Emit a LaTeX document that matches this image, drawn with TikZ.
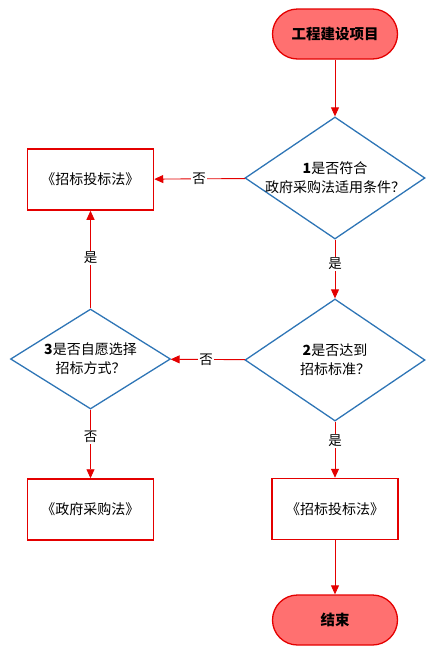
\documentclass[tikz,border=0pt]{standalone}
\usepackage{fontspec}
\setmainfont{Noto Sans CJK SC}
\usetikzlibrary{arrows.meta,shapes.geometric}
\definecolor{termred}{RGB}{255,112,112}
\definecolor{linered}{RGB}{228,0,0}
\definecolor{diablue}{RGB}{46,117,182}

\begin{document}
\begin{tikzpicture}[x=1pt,y=-1pt,
every node/.style={font=\fontsize{14}{19}\selectfont},
term/.style={draw=linered,line width=1.3pt,fill=termred,rounded corners=25pt,
  minimum width=125pt,minimum height=50pt,font=\fontsize{14.5}{19}\selectfont\bfseries},
lawbox/.style={draw=linered,line width=1.5pt,fill=white,minimum width=126pt,minimum height=61pt},
decision/.style={diamond,draw=diablue,line width=1.3pt,inner sep=0pt},
lbl/.style={fill=white,inner sep=1pt,font=\fontsize{13.5}{15}\selectfont},
flow/.style={draw=linered,line width=0.9pt,-{Triangle[length=9pt,width=8pt]}}]
\useasboundingbox (0,0) rectangle (437,659);

\node[term] (start) at (335,34) {工程建设项目};
\node[decision,minimum width=180pt,minimum height=122pt,
  label={[align=center]center:\textbf{1}是否符合\\政府采购法适用条件？}] (q1) at (335,178) {};
\node[lawbox] (law1) at (90.5,179.5) {《招标投标法》};
\node[decision,minimum width=180pt,minimum height=122pt,
  label={[align=center]center:\textbf{2}是否达到\\招标标准？}] (q2) at (335,360) {};
\node[decision,minimum width=160pt,minimum height=100pt,
  label={[align=center]center:\textbf{3}是否自愿选择\\招标方式？}] (q3) at (90.5,359) {};
\node[lawbox] (law2) at (90.5,509.5) {《政府采购法》};
\node[lawbox] (law3) at (335,509) {《招标投标法》};
\node[term] (end) at (335,620) {结束};

\draw[flow] (start)--(q1);
\draw[flow] (q1)--(law1);
\draw[flow] (q1)--(q2);
\draw[flow] (q2)--(q3);
\draw[flow] (q3)--(law1);
\draw[flow] (q3)--(law2);
\draw[flow] (q2)--(law3);
\draw[flow] (law3)--(end);

\node[lbl] (no1) at (199,178.5) {否};
\node[lbl] (yes1) at (335,264) {是};
\node[lbl] (no2) at (206,360) {否};
\node[lbl] (yes2) at (90.5,258) {是};
\node[lbl] (no3) at (90.5,437) {否};
\node[lbl] (yes3) at (335,441) {是};

\end{tikzpicture}
\end{document}
